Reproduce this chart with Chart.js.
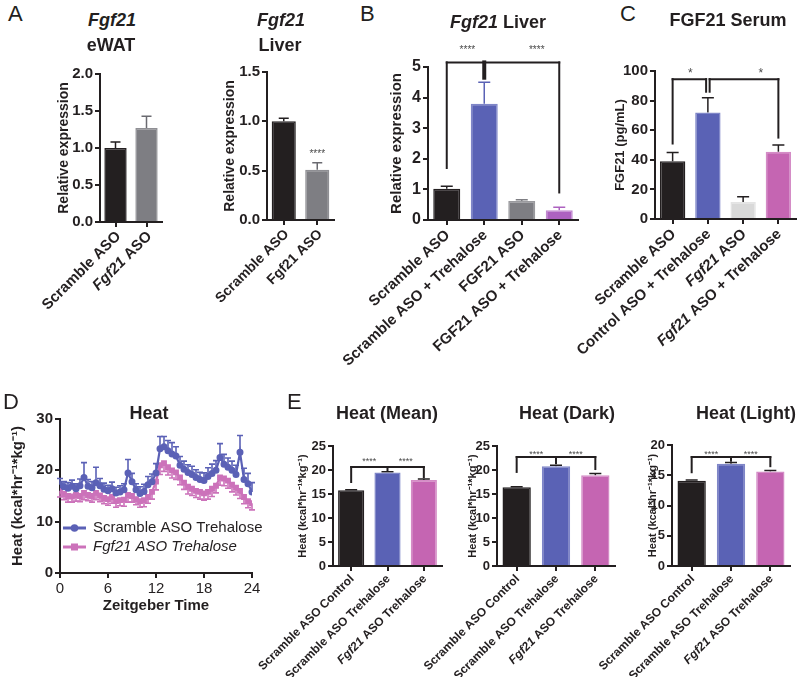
<!DOCTYPE html>
<html>
<head>
<meta charset="utf-8">
<script src="https://cdn.jsdelivr.net/npm/chart.js@4.4.1/dist/chart.umd.min.js"></script>
<style>
body { margin: 0; width: 800px; height: 677px; background: #fff; position: relative; overflow: hidden;
       font-family: "Liberation Sans", Arial, sans-serif; color: #231f20; }
canvas { position: absolute; }
.letter { position: absolute; font-size: 22px; z-index: 2; }
.ttl { position: absolute; font-weight: bold; font-size: 18px; white-space: nowrap; transform: translate(-50%, -50%); z-index: 2; }
</style>
</head>
<body>
<canvas id="ewat"></canvas>
<canvas id="liver"></canvas>
<canvas id="liverTre"></canvas>
<canvas id="serum"></canvas>
<canvas id="heatTime"></canvas>
<canvas id="heatMean"></canvas>
<canvas id="heatDark"></canvas>
<canvas id="heatLight"></canvas>

<div class="letter" style="left:8px;top:1px">A</div>
<div class="letter" style="left:360px;top:1px">B</div>
<div class="letter" style="left:620px;top:1px">C</div>
<div class="letter" style="left:3px;top:389px">D</div>
<div class="letter" style="left:287px;top:389px">E</div>

<div class="ttl" style="left:112px;top:20px"><i>Fgf21</i></div>
<div class="ttl" style="left:111px;top:45px">eWAT</div>
<div class="ttl" style="left:281px;top:20px"><i>Fgf21</i></div>
<div class="ttl" style="left:280px;top:45px">Liver</div>
<div class="ttl" style="left:498px;top:22px"><i>Fgf21</i> Liver</div>
<div class="ttl" style="left:728px;top:20px">FGF21 Serum</div>
<div class="ttl" style="left:149px;top:413px">Heat</div>
<div class="ttl" style="left:387px;top:413px">Heat (Mean)</div>
<div class="ttl" style="left:567px;top:413px">Heat (Dark)</div>
<div class="ttl" style="left:746px;top:413px">Heat (Light)</div>

<script>
// ---- data ----
// underscores mark the italic part of a label

// A: Fgf21 expression, eWAT and liver
const ewatLabels = ['Scramble ASO', '_Fgf21_ ASO'];
const ewatMean = [1.0, 1.27];
const ewatSem = [0.08, 0.16];

const liverLabels = ['Scramble ASO', 'Fgf21 ASO'];
const liverMean = [1.0, 0.51];
const liverSem = [0.03, 0.07];

// B: Fgf21 liver with trehalose
const liverTreLabels = ['Scramble ASO', 'Scramble ASO + Trehalose', 'FGF21 ASO', 'FGF21 ASO + Trehalose'];
const liverTreMean = [1.02, 3.8, 0.62, 0.32];
const liverTreSem = [0.08, 0.7, 0.04, 0.1];

// C: FGF21 serum (pg/mL)
const serumLabels = ['Scramble ASO', 'Control ASO + Trehalose', '_Fgf21_ ASO', '_Fgf21_ ASO + Trehalose'];
const serumMean = [39, 72, 11.5, 45.5];
const serumSem = [6, 10, 3.5, 4.5];

// D: heat over zeitgeber time
const ztHours = [0, 0.5, 1, 1.5, 2, 2.5, 3, 3.5, 4, 4.5, 5, 5.5, 6, 6.5, 7, 7.5, 8, 8.5, 9, 9.5,
  10, 10.5, 11, 11.5, 12, 12.5, 13, 13.5, 14, 14.5, 15, 15.5, 16, 16.5, 17, 17.5, 18, 18.5, 19, 19.5,
  20, 20.5, 21, 21.5, 22, 22.5, 23, 23.5, 24];
const scrTreHeat = [17.2, 16.8, 16.5, 16.9, 16.4, 17.0, 18.6, 16.9, 16.6, 17.6, 17.0, 16.3, 16.0, 16.4, 15.6, 15.8, 16.2, 19.5, 17.8, 16.2,
  15.5, 15.9, 17.2, 17.8, 19.5, 24.2, 24.6, 23.8, 23.2, 22.8, 21.0, 20.2, 19.6, 19.2, 18.6, 18.2, 18.0, 18.8, 19.4, 20.0,
  22.5, 21.2, 20.6, 20.0, 19.2, 23.5, 18.2, 17.4, 15.8];
const scrTreSem = [1.2, 1.0, 1.1, 1.2, 1.0, 1.3, 2.9, 1.3, 1.2, 3.0, 1.4, 1.2, 1.1, 1.3, 1.1, 1.2, 1.2, 2.6, 1.6, 1.2,
  1.3, 1.4, 1.6, 1.5, 1.8, 2.4, 2.0, 2.0, 2.2, 1.8, 1.7, 1.6, 1.5, 1.6, 1.5, 1.4, 1.5, 1.7, 1.8, 1.9,
  2.7, 1.9, 1.8, 1.8, 1.8, 3.3, 2.2, 2.0, 1.8];
const fgfTreHeat = [16.0, 15.4, 15.0, 14.9, 15.2, 15.0, 15.6, 15.2, 15.0, 15.6, 15.1, 14.6, 14.4, 14.8, 14.0, 14.2, 14.3, 15.2, 15.0, 14.4,
  14.0, 14.2, 14.8, 15.8, 17.8, 21.0, 21.4, 20.6, 20.0, 19.6, 18.6, 17.6, 16.8, 16.4, 16.0, 15.8, 15.5, 15.8, 16.4, 17.0,
  18.6, 18.4, 18.0, 17.2, 16.6, 16.0, 14.8, 14.0, 13.6];
const fgfTreSem = [1.2, 1.1, 1.2, 1.1, 1.2, 1.1, 1.3, 1.1, 1.2, 1.3, 1.2, 1.1, 1.2, 1.2, 1.2, 1.1, 1.3, 1.4, 1.2, 1.1,
  1.2, 1.3, 1.2, 1.4, 1.6, 1.8, 1.6, 1.5, 1.5, 1.4, 1.4, 1.3, 1.4, 1.3, 1.3, 1.4, 1.3, 1.4, 1.5, 1.4,
  1.5, 1.4, 1.5, 1.4, 1.4, 1.5, 1.3, 1.3, 1.3];
const heatSeriesLabels = ['Scramble ASO Trehalose', '_Fgf21 ASO Trehalose_'];

// E: heat summaries
const heatLabels = ['Scramble ASO Control', 'Scramble ASO Trehalose', '_Fgf21_ ASO Trehalose'];
const heatMeanVals = [15.8, 19.5, 17.9];
const heatMeanSem = [0.1, 0.15, 0.2];
const heatDarkVals = [16.4, 20.8, 18.9];
const heatDarkSem = [0.1, 0.2, 0.35];
const heatLightVals = [14.1, 16.9, 15.6];
const heatLightSem = [0.1, 0.2, 0.2];

// ---- styling ----
const ink = '#231f20';
const fam = '"Liberation Sans", Arial, sans-serif';
const black = '#231f20', grey = '#7e7e83', lightGrey = '#d9d9d9';
const blue = '#5a62b5', blueEdge = '#7f86c8';
const purple = '#ad62c0', pink = '#c565b2', pinkEdge = '#d48cc6';
const lineBlue = '#5b61b6', linePink = '#cc72ba';

Chart.defaults.font.family = fam;
Chart.defaults.color = ink;

// split "_Fgf21_ ASO" into [text, italic] parts
function segs(label) {
    return label.split('_').map((t, i) => [t, i % 2 === 1]).filter(s => s[0] !== '');
}

// rotated category labels with italic parts
const richTicks = {
    id: 'richTicks',
    afterDraw(chart, args, o) {
        if (!o.labels) return;
        const ctx = chart.ctx;
        const xs = chart.scales.x;
        const rot = o.rot * Math.PI / 180;
        ctx.save();
        ctx.fillStyle = ink;
        ctx.textBaseline = 'middle';
        o.labels.forEach((lab, i) => {
            const parts = segs(lab);
            const fonts = parts.map(p => (p[1] ? 'italic ' : '') + 'bold ' + o.size + 'px ' + fam);
            let total = 0;
            parts.forEach((p, k) => { ctx.font = fonts[k]; total += ctx.measureText(p[0]).width; });
            ctx.save();
            ctx.translate(xs.getPixelForValue(i) + o.dx, xs.top + o.dy);
            ctx.rotate(-rot);
            let x = -total;
            parts.forEach((p, k) => {
                ctx.font = fonts[k];
                ctx.fillText(p[0], x, 0);
                x += ctx.measureText(p[0]).width;
            });
            ctx.restore();
        });
        ctx.restore();
    }
};

// one-sided error bars (dir 1 = up, -1 = down)
const errBars = {
    id: 'errBars',
    beforeDatasetDraw(chart, args, o) {
        const set = o.sets && o.sets[args.index];
        if (!set) return;
        const ys = chart.scales.y;
        const ctx = chart.ctx;
        const vals = chart.data.datasets[args.index].data;
        ctx.save();
        ctx.lineWidth = set.width;
        args.meta.data.forEach((el, i) => {
            const v = typeof vals[i] === 'object' ? vals[i].y : vals[i];
            const y0 = ys.getPixelForValue(v);
            const y1 = ys.getPixelForValue(v + set.dir * set.sem[i]);
            ctx.strokeStyle = Array.isArray(set.color) ? set.color[i] : set.color;
            ctx.beginPath();
            ctx.moveTo(el.x, y0);
            ctx.lineTo(el.x, y1);
            ctx.moveTo(el.x - set.cap / 2, y1);
            ctx.lineTo(el.x + set.cap / 2, y1);
            ctx.stroke();
        });
        ctx.restore();
    }
};

// significance brackets and stars
const brackets = {
    id: 'brackets',
    afterDraw(chart, args, o) {
        const xs = chart.scales.x, ys = chart.scales.y, ctx = chart.ctx;
        ctx.save();
        ctx.strokeStyle = ink;
        ctx.lineCap = 'square';
        (o.lines || []).forEach(b => {
            const y = ys.getPixelForValue(b.at);
            ctx.lineWidth = 2;
            ctx.beginPath();
            ctx.moveTo(xs.getPixelForValue(b.from), y);
            ctx.lineTo(xs.getPixelForValue(b.to), y);
            ctx.stroke();
            b.legs.forEach(([c, down, w]) => {
                const x = xs.getPixelForValue(c);
                ctx.lineWidth = w || 2;
                ctx.beginPath();
                ctx.moveTo(x, y);
                ctx.lineTo(x, ys.getPixelForValue(down));
                ctx.stroke();
            });
        });
        ctx.fillStyle = '#4a4a4a';
        ctx.font = (o.starSize || 10) + 'px ' + fam;
        ctx.textAlign = 'center';
        ctx.textBaseline = 'middle';
        (o.stars || []).forEach(s => ctx.fillText(s.text, xs.getPixelForValue(s.at), ys.getPixelForValue(s.y)));
        ctx.restore();
    }
};

// legend drawn inside the plot of panel D
const insideLegend = {
    id: 'insideLegend',
    afterDraw(chart, args, o) {
        if (!o.labels) return;
        const ctx = chart.ctx, a = chart.chartArea;
        ctx.save();
        chart.data.datasets.forEach((ds, i) => {
            const y = a.bottom - o.bottom + i * o.gap;
            const x = a.left + o.left;
            ctx.strokeStyle = ds.borderColor;
            ctx.fillStyle = ds.borderColor;
            ctx.lineWidth = 3;
            ctx.beginPath();
            ctx.moveTo(x, y);
            ctx.lineTo(x + 23, y);
            ctx.stroke();
            if (ds.pointStyle === 'rect') {
                ctx.fillRect(x + 8, y - 3.5, 7, 7);
            } else {
                ctx.beginPath();
                ctx.arc(x + 11.5, y, 3.8, 0, Math.PI * 2);
                ctx.fill();
            }
            ctx.fillStyle = ink;
            ctx.textBaseline = 'middle';
            let tx = x + 30;
            segs(o.labels[i]).forEach(p => {
                ctx.font = (p[1] ? 'italic ' : '') + '15px ' + fam;
                ctx.fillText(p[0], tx, y);
                tx += ctx.measureText(p[0]).width;
            });
        });
        ctx.restore();
    }
};

function axisStyle() {
    return {
        grid: { drawOnChartArea: false, tickLength: 5, lineWidth: 2, color: ink },
        border: { color: ink, width: 2 }
    };
}

// bar panel; box = [axis left, y of top tick, axis right, y of zero]
function makeBarChart(id, p) {
    const [left, top, right, bottom] = p.box;
    const cLeft = Math.max(0, left - 160);
    const cTop = top - 40;
    const el = document.getElementById(id);
    el.width = right + 8 - cLeft;
    el.height = bottom + p.xH - cTop;
    el.style.left = cLeft + 'px';
    el.style.top = cTop + 'px';
    const yW = left - cLeft;
    const lh = p.yTitleSize * 1.2;
    const xAxis = axisStyle();
    xAxis.grid.offset = false;
    const yAxis = axisStyle();

    return new Chart(el, {
        type: 'bar',
        data: {
            labels: p.labels.map(l => l.replace(/_/g, '')),
            datasets: [{
                data: p.means,
                backgroundColor: p.colors,
                borderColor: p.edges,
                borderWidth: 1.5,
                barPercentage: 0.72,
                categoryPercentage: 1
            }]
        },
        options: {
            responsive: false,
            animation: false,
            layout: { padding: { left: 0, top: 40, right: 8, bottom: 0 } },
            plugins: {
                legend: { display: false },
                tooltip: { enabled: false },
                richTicks: { labels: p.labels, size: p.labelSize, rot: p.rot, dx: p.dx, dy: p.dy },
                errBars: { sets: [{ sem: p.sems, dir: 1, color: p.errColors, cap: p.cap, width: 1.5 }] },
                brackets: p.brackets || {}
            },
            scales: {
                x: Object.assign(xAxis, {
                    ticks: { display: false },
                    afterFit: s => { s.height = p.xH; }
                }),
                y: Object.assign(yAxis, {
                    min: 0,
                    max: p.yMax,
                    ticks: {
                        stepSize: p.yStep,
                        padding: 2,
                        color: ink,
                        font: { size: p.tickSize, weight: 'bold' },
                        callback: v => v.toFixed(p.decimals)
                    },
                    title: {
                        display: true,
                        text: p.yTitle,
                        color: ink,
                        font: { size: p.yTitleSize, weight: 'bold' },
                        padding: { top: p.yTitleX - cLeft - lh / 2, bottom: 0 }
                    },
                    afterFit: s => { s.width = yW; }
                })
            }
        },
        plugins: [richTicks, errBars, brackets]
    });
}

// Panel A
makeBarChart('ewat', {
    box: [100, 74, 162, 222], xH: 125, yTitleX: 64,
    labels: ewatLabels, means: ewatMean, sems: ewatSem,
    colors: [black, grey], edges: [black, '#8f8f94'], errColors: [black, '#6a6a70'], cap: 10,
    yMax: 2, yStep: 0.5, decimals: 1, yTitle: 'Relative expression', yTitleSize: 14,
    tickSize: 15, labelSize: 15, rot: 45, dx: 3, dy: 12
});
makeBarChart('liver', {
    box: [267, 72, 334, 220], xH: 125, yTitleX: 230,
    labels: liverLabels, means: liverMean, sems: liverSem,
    colors: [black, grey], edges: [black, '#8f8f94'], errColors: [black, '#6a6a70'], cap: 10,
    yMax: 1.5, yStep: 0.5, decimals: 1, yTitle: 'Relative expression', yTitleSize: 14,
    tickSize: 15, labelSize: 14, rot: 45, dx: 3, dy: 12,
    brackets: { starSize: 10, stars: [{ at: 1, y: 0.67, text: '****' }] }
});

// Panel B
makeBarChart('liverTre', {
    box: [428, 67, 578, 220], xH: 160, yTitleX: 397,
    labels: liverTreLabels, means: liverTreMean, sems: liverTreSem,
    colors: [black, blue, grey, purple], edges: [black, blueEdge, '#9a9a9e', '#c28ad0'],
    errColors: [black, blue, grey, purple], cap: 12,
    yMax: 5, yStep: 1, decimals: 0, yTitle: 'Relative expression', yTitleSize: 15,
    tickSize: 16, labelSize: 15, rot: 43, dx: 1, dy: 13,
    brackets: {
        starSize: 10,
        lines: [{ from: 0, to: 3, at: 5.15, legs: [[0, 1.7], [3, 0.9], [1, 4.65, 4]] }],
        stars: [{ at: 0.55, y: 5.55, text: '****' }, { at: 2.4, y: 5.55, text: '****' }]
    }
});

// Panel C
makeBarChart('serum', {
    box: [655, 71, 796, 219], xH: 160, yTitleX: 620,
    labels: serumLabels, means: serumMean, sems: serumSem,
    colors: [black, blue, lightGrey, pink], edges: [black, blueEdge, '#e4e4e4', pinkEdge],
    errColors: [black, black, black, black], cap: 12,
    yMax: 100, yStep: 20, decimals: 0, yTitle: 'FGF21 (pg/mL)', yTitleSize: 13,
    tickSize: 15, labelSize: 15, rot: 43, dx: 1, dy: 13,
    brackets: {
        starSize: 12,
        lines: [
            { from: 0, to: 0.95, at: 94.5, legs: [[0, 51], [0.95, 86]] },
            { from: 1.05, to: 3, at: 94.5, legs: [[1.05, 86], [3, 55]] }
        ],
        stars: [{ at: 0.5, y: 98.5, text: '*' }, { at: 2.5, y: 98.5, text: '*' }]
    }
});

// Panel E
const heatAxisTitle = 'Heat (kcal*hr\u207B\u00B9*kg\u207B\u00B9)';
makeBarChart('heatMean', {
    box: [333, 446, 442, 566], xH: 111, yTitleX: 303,
    labels: heatLabels, means: heatMeanVals, sems: heatMeanSem,
    colors: [black, blue, pink], edges: [black, blueEdge, pinkEdge], errColors: [black, black, black], cap: 12,
    yMax: 25, yStep: 5, decimals: 0, yTitle: heatAxisTitle, yTitleSize: 11,
    tickSize: 13, labelSize: 12, rot: 45, dx: 1, dy: 11,
    brackets: {
        starSize: 9,
        lines: [{ from: 0, to: 2, at: 20.6, legs: [[0, 17.5], [2, 18.5], [1, 19.9]] }],
        stars: [{ at: 0.5, y: 21.7, text: '****' }, { at: 1.5, y: 21.7, text: '****' }]
    }
});
makeBarChart('heatDark', {
    box: [497, 446, 615, 566], xH: 111, yTitleX: 473,
    labels: heatLabels, means: heatDarkVals, sems: heatDarkSem,
    colors: [black, blue, pink], edges: [black, blueEdge, pinkEdge], errColors: [black, black, black], cap: 12,
    yMax: 25, yStep: 5, decimals: 0, yTitle: heatAxisTitle, yTitleSize: 11,
    tickSize: 13, labelSize: 12, rot: 45, dx: 1, dy: 11,
    brackets: {
        starSize: 9,
        lines: [{ from: 0, to: 2, at: 22.7, legs: [[0, 19.6], [2, 20.2], [1, 21.4]] }],
        stars: [{ at: 0.5, y: 23.2, text: '****' }, { at: 1.5, y: 23.2, text: '****' }]
    }
});
makeBarChart('heatLight', {
    box: [672, 445, 790, 566], xH: 111, yTitleX: 653,
    labels: heatLabels, means: heatLightVals, sems: heatLightSem,
    colors: [black, blue, pink], edges: [black, blueEdge, pinkEdge], errColors: [black, black, black], cap: 12,
    yMax: 20, yStep: 5, decimals: 0, yTitle: heatAxisTitle, yTitleSize: 11,
    tickSize: 13, labelSize: 12, rot: 45, dx: 1, dy: 11,
    brackets: {
        starSize: 9,
        lines: [{ from: 0, to: 2, at: 18.0, legs: [[0, 15.5], [2, 16.5], [1, 17.4]] }],
        stars: [{ at: 0.5, y: 18.4, text: '****' }, { at: 1.5, y: 18.4, text: '****' }]
    }
});

// Panel D: heat time course
(function () {
    const el = document.getElementById('heatTime');
    const cTop = 394, axisTop = 419, axisBottom = 573, axisLeft = 60, axisRight = 252;
    el.width = axisRight + 14;
    el.height = 615 - cTop;
    el.style.left = '0px';
    el.style.top = cTop + 'px';
    const xAxis = axisStyle();
    const yAxis = axisStyle();
    new Chart(el, {
        type: 'line',
        data: {
            datasets: [{
                label: 'Scramble ASO Trehalose',
                data: ztHours.map((t, i) => ({ x: t, y: scrTreHeat[i] })),
                borderColor: lineBlue,
                backgroundColor: lineBlue,
                borderWidth: 2.2,
                pointStyle: 'circle',
                pointRadius: 2.4,
                tension: 0
            }, {
                label: 'Fgf21 ASO Trehalose',
                data: ztHours.map((t, i) => ({ x: t, y: fgfTreHeat[i] })),
                borderColor: linePink,
                backgroundColor: linePink,
                borderWidth: 2.2,
                pointStyle: 'rect',
                pointRadius: 2.6,
                tension: 0
            }]
        },
        options: {
            responsive: false,
            animation: false,
            layout: { padding: { left: 0, top: axisTop - cTop, right: 14, bottom: 0 } },
            plugins: {
                legend: { display: false },
                tooltip: { enabled: false },
                errBars: {
                    sets: [
                        { sem: scrTreSem, dir: 1, color: lineBlue, cap: 6, width: 1.6 },
                        { sem: fgfTreSem, dir: -1, color: linePink, cap: 6, width: 1.6 }
                    ]
                },
                insideLegend: { labels: heatSeriesLabels, left: 3, bottom: 45, gap: 19 }
            },
            scales: {
                x: Object.assign(xAxis, {
                    type: 'linear',
                    min: 0,
                    max: 24,
                    ticks: { stepSize: 6, padding: 2, color: ink, font: { size: 15 } },
                    title: {
                        display: true, text: 'Zeitgeber Time', color: ink,
                        font: { size: 15, weight: 'bold' }, padding: { top: 0, bottom: 0 }
                    },
                    afterFit: s => { s.height = 615 - axisBottom; }
                }),
                y: Object.assign(yAxis, {
                    min: 0,
                    max: 30,
                    ticks: { stepSize: 10, padding: 2, color: ink, font: { size: 15, weight: 'bold' } },
                    title: {
                        display: true, text: heatAxisTitle, color: ink,
                        font: { size: 15, weight: 'bold' }, padding: { top: 9, bottom: 0 }
                    },
                    afterFit: s => { s.width = axisLeft; }
                })
            }
        },
        plugins: [errBars, insideLegend]
    });
})();
</script>
</body>
</html>
